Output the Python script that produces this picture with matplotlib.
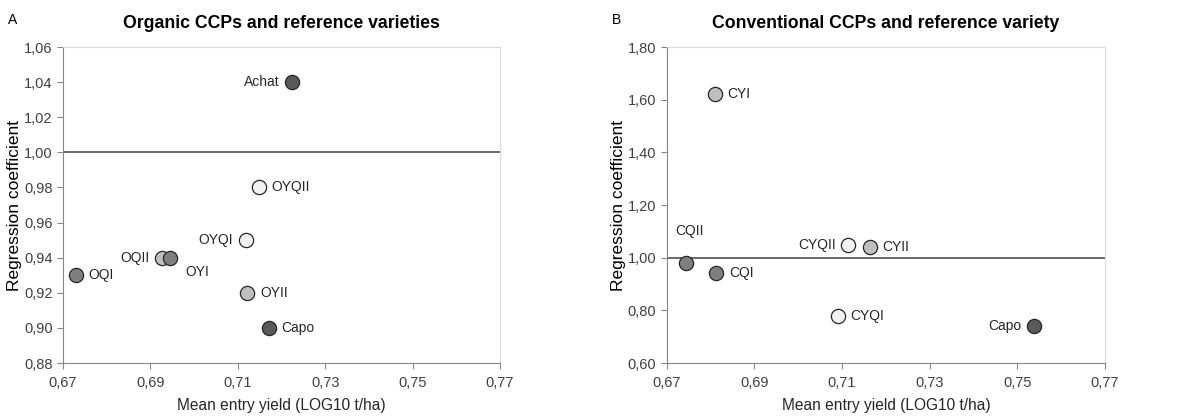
import matplotlib.pyplot as plt
from matplotlib.ticker import FuncFormatter, MultipleLocator

plt.rcParams["font.family"] = ["Liberation Sans", "DejaVu Sans"]

# Panel A: organic CCPs and reference varieties
org_names = ["Achat", "OYQII", "OYQI", "OQII", "OYI", "OQI", "OYII", "Capo"]
org_x = [0.7224, 0.7149, 0.7118, 0.6927, 0.6945, 0.6730, 0.7122, 0.7171]
org_y = [1.04, 0.98, 0.95, 0.94, 0.94, 0.93, 0.92, 0.90]
org_fill = ["#595959", "#f2f2f2", "#f2f2f2", "#bfbfbf", "#7f7f7f", "#7f7f7f", "#bfbfbf", "#595959"]
org_side = ["left", "right", "left", "left", "below", "right", "right", "right"]

# Panel B: conventional CCPs and reference variety
conv_names = ["CYI", "CQII", "CQI", "CYQII", "CYII", "CYQI", "Capo"]
conv_x = [0.6810, 0.6745, 0.6813, 0.7114, 0.7164, 0.7090, 0.7538]
conv_y = [1.62, 0.98, 0.94, 1.05, 1.04, 0.78, 0.74]
conv_fill = ["#bfbfbf", "#7f7f7f", "#7f7f7f", "#f2f2f2", "#bfbfbf", "#f2f2f2", "#595959"]
conv_side = ["right", "above", "right", "left", "right", "right", "left"]

x_ticks = [0.67, 0.69, 0.71, 0.73, 0.75, 0.77]

comma = FuncFormatter(lambda v, p: f"{v:.2f}".replace(".", ","))

OFFSETS = {
    "right": ((9, 0), "left", "center"),
    "left": ((-9, 0), "right", "center"),
    "below": ((11, -10), "left", "center"),
    "above": ((2, 23), "center", "center"),
}


def panel(ax, names, xs, ys, fills, sides, ylim, ystep, title, letter):
    ax.axhline(1.0, color="#404040", lw=1.1, zorder=1)
    for n, x, y, c, s in zip(names, xs, ys, fills, sides):
        ax.scatter(x, y, s=105, facecolor=c, edgecolor="#262626", lw=0.9, zorder=3)
        off, ha, va = OFFSETS[s]
        ax.annotate(n, (x, y), xytext=off, textcoords="offset points",
                    ha=ha, va=va, fontsize=10, color="#262626")
    ax.set_xlim(0.67, 0.77)
    ax.set_ylim(*ylim)
    ax.set_xticks(x_ticks)
    ax.yaxis.set_major_locator(MultipleLocator(ystep))
    ax.xaxis.set_major_formatter(comma)
    ax.yaxis.set_major_formatter(comma)
    ax.tick_params(labelsize=10.5, colors="#404040", length=4, width=0.8,
                   color="#868686")
    ax.tick_params(axis="x", pad=5)
    for sp in ("left", "bottom"):
        ax.spines[sp].set_color("#868686")
    for sp in ("top", "right"):
        ax.spines[sp].set_color("#d9d9d9")
    ax.set_xlabel("Mean entry yield (LOG10 t/ha)", fontsize=11.2, color="#262626", labelpad=6)
    ax.set_ylabel("Regression coefficient", fontsize=12.5, color="#000000", labelpad=1.5)
    ax.set_title(title, fontsize=12.7, fontweight="bold", pad=14)
    ax.text(-0.125, 1.085, letter, transform=ax.transAxes, fontsize=10, va="center")


fig = plt.figure(figsize=(11.97, 4.16), dpi=100)
ax1 = fig.add_axes([0.0526, 0.1274, 0.3651, 0.7596])
ax2 = fig.add_axes([0.5570, 0.1274, 0.3662, 0.7596])

panel(ax1, org_names, org_x, org_y, org_fill, org_side, (0.88, 1.06), 0.02,
      "Organic CCPs and reference varieties", "A")
panel(ax2, conv_names, conv_x, conv_y, conv_fill, conv_side, (0.60, 1.80), 0.20,
      "Conventional CCPs and reference variety", "B")

fig.savefig("out.png", dpi=100)
